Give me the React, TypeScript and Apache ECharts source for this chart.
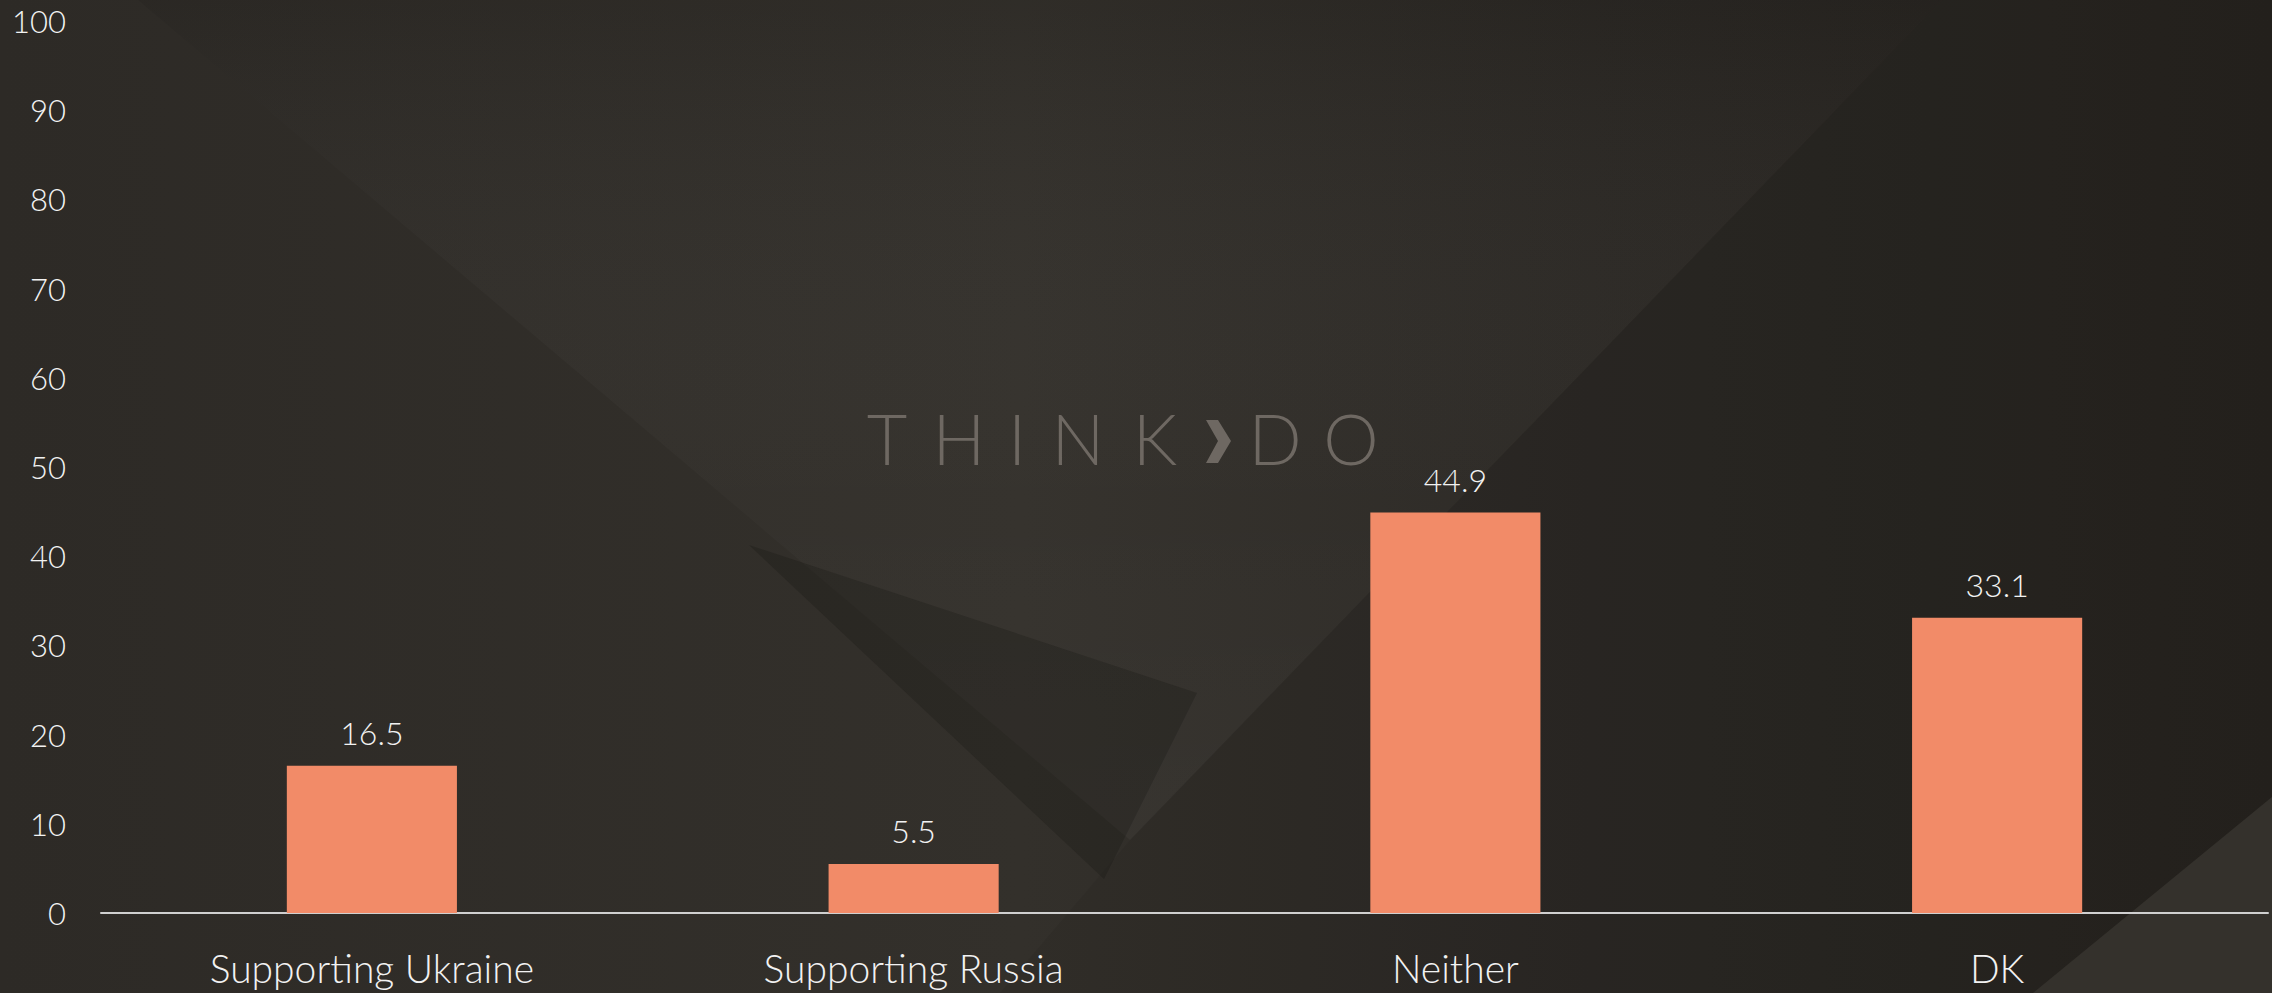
import React, { useEffect, useRef } from "react";
import * as echarts from "echarts";

const categories = ["Supporting Ukraine", "Supporting Russia", "Neither", "DK"];
const values = [16.5, 5.5, 44.9, 33.1];
const yMin = 0;
const yMax = 100;
const yInterval = 10;

const FONT = "Lato";
const TEXT_COLOR = "#f2f2f2";
const BAR_COLOR = "#f28b68";
const MARK_COLOR = "#6e6862";

function letter(t: string, cx: number) {
  return {
    type: "text",
    z: -50,
    style: {
      text: t,
      x: cx,
      y: 438,
      align: "center",
      verticalAlign: "middle",
      fill: MARK_COLOR,
      fontFamily: FONT,
      fontWeight: 300,
      fontSize: 70,
    },
  };
}

export default function App() {
  const ref = useRef<HTMLDivElement>(null);
  useEffect(() => {
    if (!ref.current) return;
    const chart = echarts.init(ref.current, undefined, { renderer: "svg" });
    const option = {
      animation: false,
      backgroundColor: "#2c2925",
      graphic: [
        {
          type: "rect",
          z: -100,
          shape: { x: 0, y: 0, width: 2272, height: 993 },
          style: {
            fill: {
              type: "linear", x: 0, y: 0, x2: 1, y2: 0,
              colorStops: [
                { offset: 0, color: "#2d2a26" },
                { offset: 0.45, color: "#33302b" },
                { offset: 0.7, color: "#2b2824" },
                { offset: 1, color: "#25221e" },
              ],
            },
          },
        },
        {
          type: "polygon",
          z: -90,
          shape: { points: [[138, 0], [1942, 0], [1130, 840]] },
          style: {
            fill: {
              type: "linear", x: 0, y: 0, x2: 0, y2: 1,
              colorStops: [
                { offset: 0, color: "rgba(0,0,0,0.07)" },
                { offset: 0.6, color: "rgba(255,255,255,0.015)" },
                { offset: 1, color: "rgba(255,255,255,0.03)" },
              ],
            },
          },
        },
        {
          type: "polygon",
          z: -90,
          shape: { points: [[1942, 0], [2272, 0], [2272, 797], [2033, 993], [1000, 993], [1130, 840]] },
          style: { fill: "rgba(0,0,0,0.05)" },
        },
        {
          type: "polygon",
          z: -80,
          shape: { points: [[749, 545], [1197, 693], [1104, 879]] },
          style: { fill: "rgba(20,18,15,0.25)" },
        },
        {
          type: "polygon",
          z: -80,
          shape: { points: [[2272, 797], [2272, 993], [2033, 993]] },
          style: { fill: "#34312c" },
        },
        letter("T", 887),
        letter("H", 959),
        letter("I", 1017),
        letter("N", 1078),
        letter("K", 1155),
        {
          type: "polygon",
          z: -50,
          shape: { points: [[1206, 420], [1218, 420], [1231, 441], [1218, 463], [1206, 463], [1218, 441]] },
          style: { fill: MARK_COLOR },
        },
        letter("D", 1275),
        letter("O", 1351),
      ],
      grid: { left: 101, right: 4, top: 21, bottom: 80, containLabel: false },
      xAxis: {
        type: "category",
        data: categories,
        axisLine: { show: true, lineStyle: { color: "#d0d0d0", width: 2 } },
        axisTick: { show: false },
        axisLabel: { color: TEXT_COLOR, fontFamily: FONT, fontWeight: 300, fontSize: 39, margin: 35 },
        splitLine: { show: false },
      },
      yAxis: {
        type: "value",
        min: yMin,
        max: yMax,
        interval: yInterval,
        axisLine: { show: false },
        axisTick: { show: false },
        splitLine: { show: false },
        axisLabel: { color: TEXT_COLOR, fontFamily: FONT, fontWeight: 300, fontSize: 31, margin: 35 },
      },
      series: [
        {
          type: "bar",
          data: values,
          barWidth: "31.4%",
          itemStyle: { color: BAR_COLOR },
          label: {
            show: true,
            position: "top",
            distance: 17,
            color: TEXT_COLOR,
            fontFamily: FONT,
            fontWeight: 300,
            fontSize: 32,
          },
        },
      ],
    };
    chart.setOption(option as any);
    return () => chart.dispose();
  }, []);
  return (
    <div
      ref={ref}
      style={{ position: "absolute", left: 0, top: 0, width: 2272, height: 993 }}
    />
  );
}
